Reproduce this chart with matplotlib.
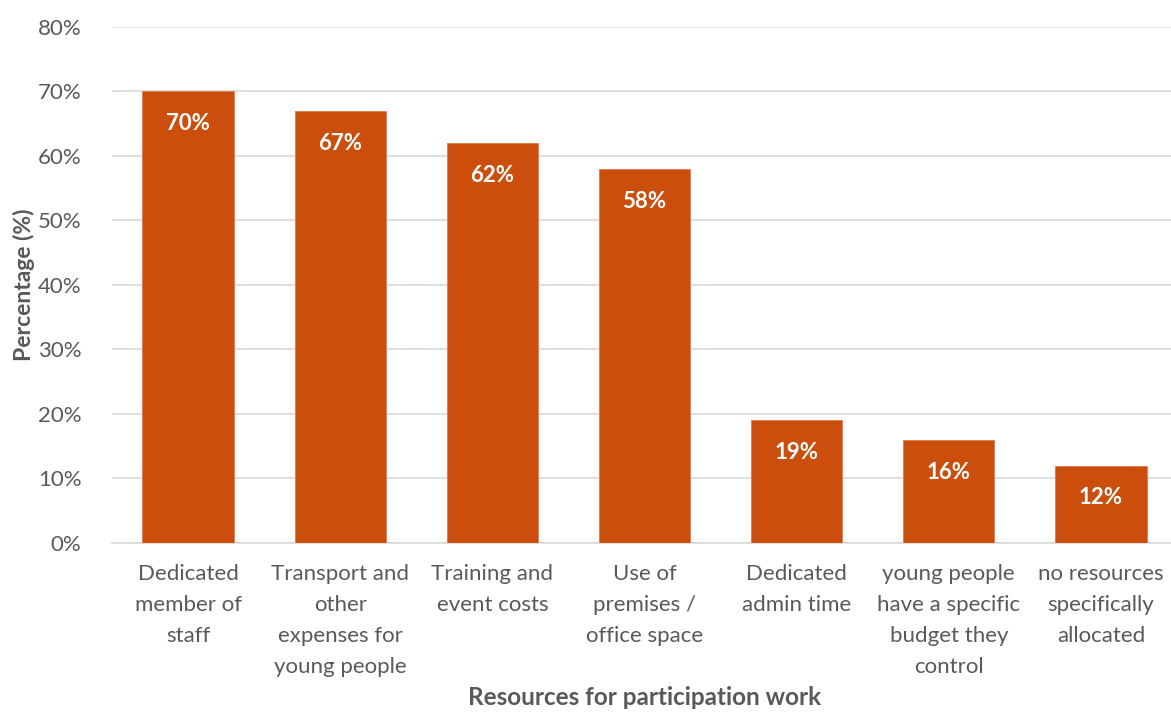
import matplotlib.pyplot as plt
from matplotlib.ticker import MultipleLocator, PercentFormatter

plt.rcParams['font.family'] = ['Lato', 'DejaVu Sans']

categories = [
    "Dedicated\nmember of\nstaff",
    "Transport and\nother\nexpenses for\nyoung people",
    "Training and\nevent costs",
    "Use of\npremises /\noffice space",
    "Dedicated\nadmin time",
    "young people\nhave a specific\nbudget they\ncontrol",
    "no resources\nspecifically\nallocated",
]
values = [70, 67, 62, 58, 19, 16, 12]

bar_color = '#CC4E0C'
text_color = '#595959'
grid_color = '#D9D9D9'

fig = plt.figure(figsize=(11.71, 7.17), dpi=100)
ax = fig.add_axes([0.0956, 0.2427, 0.9095, 0.7197])

x = range(len(values))
bars = ax.bar(x, values, width=0.6, color=bar_color, edgecolor='#E07A4C', linewidth=0.6, zorder=3)

# value labels inside the top of each bar
for b, v in zip(bars, values):
    ax.text(b.get_x() + b.get_width() / 2, v - 5, f"{v}%", ha='center', va='center',
            color='white', fontsize=16, fontweight='bold', zorder=4)

ax.set_xlim(-0.5, len(values) - 0.5)
ax.set_ylim(0, 80)
ax.yaxis.set_major_locator(MultipleLocator(10))
ax.yaxis.set_major_formatter(PercentFormatter(decimals=0))
ax.grid(axis='y', color=grid_color, linewidth=1.2, zorder=0)

ax.set_xticks(list(x))
ax.set_xticklabels(categories, fontsize=16, color=text_color, linespacing=1.7)
ax.tick_params(axis='x', length=0, pad=15)
ax.tick_params(axis='y', length=0, pad=22, labelsize=16, labelcolor=text_color)

for side in ['top', 'right', 'left']:
    ax.spines[side].set_visible(False)
ax.spines['bottom'].set_color(grid_color)
ax.spines['bottom'].set_linewidth(1.2)

ax.set_ylabel("Percentage (%)", fontsize=16.5, fontweight='bold', color=text_color, va='center')
ax.yaxis.set_label_coords(-0.083, 0.5)
ax.set_xlabel("Resources for participation work", fontsize=17.5, fontweight='bold', color=text_color, va='center')
ax.xaxis.set_label_coords(0.5, -0.3)

fig.savefig("out.png", dpi=100)
